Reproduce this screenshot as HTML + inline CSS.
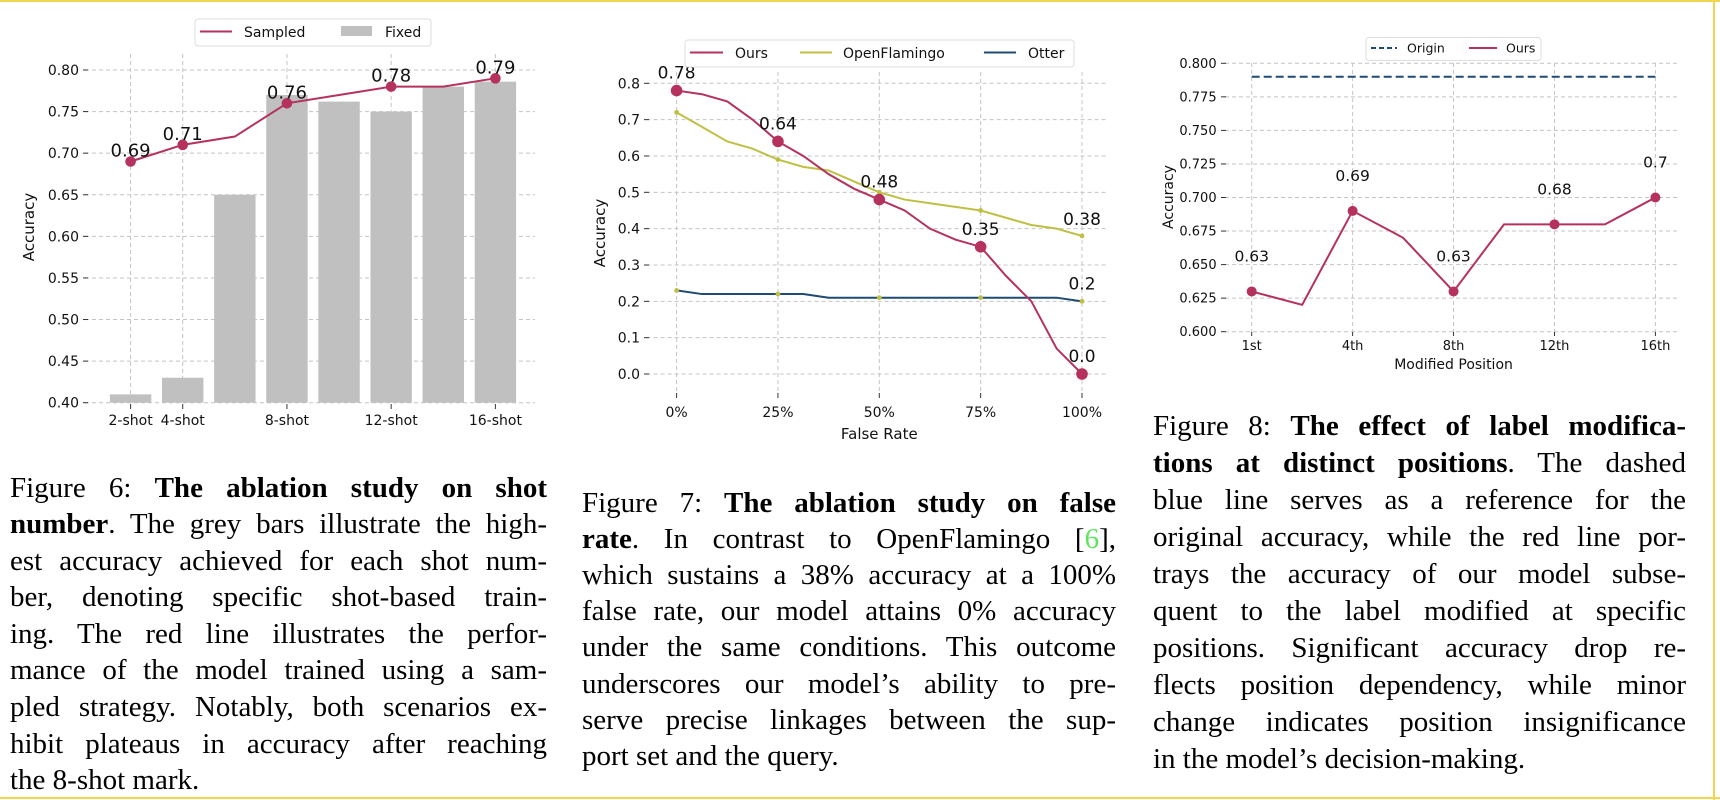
<!DOCTYPE html>
<html><head><meta charset="utf-8">
<style>
html,body{margin:0;padding:0;background:#fff;}
body{width:1720px;height:800px;position:relative;overflow:hidden;font-family:"Liberation Sans","DejaVu Sans",sans-serif;}
svg{position:absolute;left:0;top:0;}
.cap{position:absolute;font-family:"Liberation Serif",serif;font-size:29px;color:#000;}
.cap div{text-align:justify;text-align-last:justify;white-space:nowrap;}
.cap div.last{text-align-last:left;}
.cap b{font-weight:bold;}
</style></head><body>
<div style="position:absolute;left:0;top:0;width:1720px;height:2px;background:#f3d552"></div>
<div style="position:absolute;left:0;top:797px;width:1720px;height:2px;background:#f3d552"></div>
<div style="position:absolute;left:1713px;top:0;width:2px;height:800px;background:#f3d552"></div>
<svg id="chart" width="1720" height="800"></svg>

<div class="cap" style="left:10px;top:469.5px;width:537px;line-height:36.6px;">
<div>Figure 6: <b>The ablation study on shot</b></div>
<div><b>number</b>. The grey bars illustrate the high-</div>
<div>est accuracy achieved for each shot num-</div>
<div>ber, denoting specific shot-based train-</div>
<div>ing. The red line illustrates the perfor-</div>
<div>mance of the model trained using a sam-</div>
<div>pled strategy. Notably, both scenarios ex-</div>
<div>hibit plateaus in accuracy after reaching</div>
<div class="last">the 8-shot mark.</div>
</div>
<div class="cap" style="left:582px;top:484.5px;width:534px;line-height:36.2px;">
<div>Figure 7: <b>The ablation study on false</b></div>
<div><b>rate</b>. In contrast to OpenFlamingo [<span style="color:#5ee55e">6</span>],</div>
<div>which sustains a 38% accuracy at a 100%</div>
<div>false rate, our model attains 0% accuracy</div>
<div>under the same conditions. This outcome</div>
<div>underscores our model’s ability to pre-</div>
<div>serve precise linkages between the sup-</div>
<div class="last">port set and the query.</div>
</div>
<div class="cap" style="left:1153px;top:407.5px;width:533px;line-height:37px;">
<div>Figure 8: <b>The effect of label modifica-</b></div>
<div><b>tions at distinct positions</b>. The dashed</div>
<div>blue line serves as a reference for the</div>
<div>original accuracy, while the red line por-</div>
<div>trays the accuracy of our model subse-</div>
<div>quent to the label modified at specific</div>
<div>positions. Significant accuracy drop re-</div>
<div>flects position dependency, while minor</div>
<div>change indicates position insignificance</div>
<div class="last">in the model’s decision-making.</div>
</div>

<script>
// ---------- Data ----------
// Figure 6
const f6Ticks = ["2-shot","4-shot","","8-shot","","12-shot","","16-shot"];
const f6Fixed = [0.41,0.43,0.65,0.77,0.762,0.75,0.78,0.786];
const f6Sampled = [0.69,0.71,0.72,0.76,0.77,0.78,0.78,0.79];
const f6LabelIdx = [0,1,3,5,7];
const f6YTicks = [0.40,0.45,0.50,0.55,0.60,0.65,0.70,0.75,0.80];
// Figure 7
const f7XTicks = ["0%","25%","50%","75%","100%"];
const f7Ours = [0.78,0.77,0.75,0.70,0.64,0.60,0.55,0.51,0.48,0.45,0.40,0.37,0.35,0.27,0.20,0.07,0.00];
const f7Flamingo = [0.72,0.68,0.64,0.62,0.59,0.57,0.56,0.53,0.50,0.48,0.47,0.46,0.45,0.43,0.41,0.40,0.38];
const f7Otter = [0.23,0.22,0.22,0.22,0.22,0.22,0.21,0.21,0.21,0.21,0.21,0.21,0.21,0.21,0.21,0.21,0.20];
const f7YTicks = [0.0,0.1,0.2,0.3,0.4,0.5,0.6,0.7,0.8];
// Figure 8
const f8XTicks = ["1st","","4th","","8th","","12th","","16th"];
const f8Ours = [0.63,0.62,0.69,0.67,0.63,0.68,0.68,0.68,0.70];
const f8Origin = [0.79];
const f8YTicks = [0.600,0.625,0.650,0.675,0.700,0.725,0.750,0.775,0.800];

const RED="#b5325e", YEL="#bfc043", BLUE="#1f4a73", GRID="#c4c4c4";
const svg=document.getElementById('chart');
const NS="http://www.w3.org/2000/svg";
function mk(tag,attrs,parent){const e=document.createElementNS(NS,tag);for(const k in attrs)e.setAttribute(k,attrs[k]);(parent||svg).appendChild(e);return e;}
function txt(s,x,y,size,anchor,parent,extra){const t=mk('text',Object.assign({x:x,y:y,'font-size':size,'text-anchor':anchor||'middle',fill:'#111','font-family':'"DejaVu Sans","Liberation Sans",sans-serif'},extra||{}),parent);t.textContent=s;return t;}
function lin(x,x0,x1,d0,d1){return x0+(x-d0)*(x1-x0)/(d1-d0);}

// ---------- Figure 6 ----------
(function(){
  const g=mk('g',{});
  
  
  const X=i=>lin(i,130.6,495.4,0,7), Y=v=>lin(v,402.7,70,0.40,0.80);
  f6YTicks.forEach(v=>{
    const l=mk('line',{x1:85,x2:535,y1:Y(v),y2:Y(v),stroke:GRID,'stroke-dasharray':'4,3','stroke-width':1},g);
    
    
    mk('line',{x1:83,x2:88,y1:Y(v),y2:Y(v),stroke:'#333'},g);
    const t=txt(v.toFixed(2),79,Y(v)+5,14,'end',g);
    
    
  });
  f6Ticks.forEach((s,i)=>{ if(!s) return;
    mk('line',{x1:X(i),x2:X(i),y1:54,y2:402.7,stroke:GRID,'stroke-dasharray':'4,3'},g);
    mk('line',{x1:X(i),x2:X(i),y1:404,y2:409,stroke:'#333'},g);
    const t=txt(s,X(i),425,14,'middle',g);
    
    
  });
  f6Fixed.forEach((v,i)=>{
    const b=mk('rect',{x:X(i)-20.7,y:Y(v),width:41.4,height:Y(0.40)-Y(v),fill:'#c0c0c0'},g);
    
    
  });
  const p=mk('polyline',{points:f6Sampled.map((v,i)=>X(i)+','+Y(v)).join(' '),fill:'none',stroke:RED,'stroke-width':2},g);
  
  
  f6LabelIdx.forEach(i=>{
    const c=mk('circle',{cx:X(i),cy:Y(f6Sampled[i]),r:5.3,fill:RED},g);
    
    
    const t=txt(String(f6Sampled[i]),X(i),Y(f6Sampled[i])-5,18,'middle',g);
    
    
  });
  const yl=txt('Accuracy',0,0,15,'middle',g,{transform:'translate(34,227) rotate(-90)'});
  
  
  const lg=mk('g',{},g);
  
  
  mk('rect',{x:195,y:19,width:236,height:27,rx:3,fill:'#fff',stroke:'#ddd'},lg);
  mk('line',{x1:200,x2:232,y1:31.5,y2:31.5,stroke:RED,'stroke-width':2},lg);
  txt('Sampled',244,37,14,'start',lg);
  mk('rect',{x:341,y:26,width:31,height:10,fill:'#c0c0c0'},lg);
  txt('Fixed',385,37,14,'start',lg);
})();

// ---------- Figure 7 ----------
(function(){
  const g=mk('g',{});
  
  
  const X=i=>lin(i,676.6,1082,0,16), Y=v=>lin(v,374,83.3,0,0.8);
  f7YTicks.forEach(v=>{
    const l=mk('line',{x1:646.6,x2:1107,y1:Y(v),y2:Y(v),stroke:GRID,'stroke-dasharray':'4,3'},g);
    
    
    mk('line',{x1:644,x2:649,y1:Y(v),y2:Y(v),stroke:'#333'},g);
    const t=txt(v.toFixed(1),640,Y(v)+5,14,'end',g);
    
    
  });
  f7XTicks.forEach((s,k)=>{ const i=k*4;
    mk('line',{x1:X(i),x2:X(i),y1:72,y2:393,stroke:GRID,'stroke-dasharray':'4,3'},g);
    mk('line',{x1:X(i),x2:X(i),y1:393,y2:398,stroke:'#333'},g);
    const t=txt(s,X(i),417,14,'middle',g);
    
    
  });
  const series=[[f7Otter,BLUE,'otter'],[f7Flamingo,YEL,'openflamingo'],[f7Ours,RED,'ours']];
  series.forEach(([d,c,n])=>{
    const p=mk('polyline',{points:d.map((v,i)=>X(i)+','+Y(v)).join(' '),fill:'none',stroke:c,'stroke-width':2},g);
    
    
  });
  [0,4,8,12,16].forEach(i=>{
    const a=mk('circle',{cx:X(i),cy:Y(f7Otter[i]),r:2.4,fill:YEL},g);
    
    
    const b=mk('circle',{cx:X(i),cy:Y(f7Flamingo[i]),r:2.4,fill:YEL},g);
    
    
    const c=mk('circle',{cx:X(i),cy:Y(f7Ours[i]),r:5.8,fill:RED},g);
    
    
    const t=txt(String(f7Ours[i]===0?'0.0':f7Ours[i]),X(i),Y(f7Ours[i])-12,17,'middle',g);
    
    
  });
  const t1=txt(String(f7Flamingo[16]),X(16),Y(f7Flamingo[16])-11,17,'middle',g);
  
  
  const t2=txt(String(f7Otter[16]),X(16),Y(f7Otter[16])-12,17,'middle',g);
  
  
  const yl=txt('Accuracy',0,0,15,'middle',g,{transform:'translate(605,233) rotate(-90)'});
  
  
  const xl=txt('False Rate',X(8),439,15,'middle',g);
  
  
  const lg=mk('g',{},g);
  
  
  mk('rect',{x:685,y:40,width:389,height:27,rx:3,fill:'#fff',stroke:'#ddd'},lg);
  mk('line',{x1:690,x2:723,y1:52.5,y2:52.5,stroke:RED,'stroke-width':2},lg);
  txt('Ours',735,58,14,'start',lg);
  mk('line',{x1:800,x2:832,y1:52.5,y2:52.5,stroke:YEL,'stroke-width':2},lg);
  txt('OpenFlamingo',843,58,14,'start',lg);
  mk('line',{x1:984,x2:1016,y1:52.5,y2:52.5,stroke:BLUE,'stroke-width':2},lg);
  txt('Otter',1028,58,14,'start',lg);
})();

// ---------- Figure 8 ----------
(function(){
  const g=mk('g',{});
  
  
  const X=i=>lin(i,1251.7,1655.4,0,8), Y=v=>lin(v,331.7,63.3,0.6,0.8);
  f8YTicks.forEach(v=>{
    const l=mk('line',{x1:1225,x2:1680,y1:Y(v),y2:Y(v),stroke:GRID,'stroke-dasharray':'4,3'},g);
    
    
    mk('line',{x1:1221,x2:1226,y1:Y(v),y2:Y(v),stroke:'#333'},g);
    const t=txt(v.toFixed(3),1216.6,Y(v)+4.5,13,'end',g);
    
    
  });
  f8XTicks.forEach((s,i)=>{ if(!s) return;
    mk('line',{x1:X(i),x2:X(i),y1:63,y2:332,stroke:GRID,'stroke-dasharray':'4,3'},g);
    mk('line',{x1:X(i),x2:X(i),y1:332,y2:336,stroke:'#333'},g);
    const t=txt(s,X(i),350,13,'middle',g);
    
    
  });
  const o=mk('line',{x1:X(0),x2:X(8),y1:Y(f8Origin[0]),y2:Y(f8Origin[0]),stroke:BLUE,'stroke-width':2,'stroke-dasharray':'8,4'},g);
  
  
  const p=mk('polyline',{points:f8Ours.map((v,i)=>X(i)+','+Y(v)).join(' '),fill:'none',stroke:RED,'stroke-width':2},g);
  
  
  [0,2,4,6,8].forEach(i=>{
    const c=mk('circle',{cx:X(i),cy:Y(f8Ours[i]),r:5,fill:RED},g);
    
    
    const t=txt(String(f8Ours[i]),X(i),Y(f8Ours[i])-30,15.5,'middle',g);
    
    
  });
  const yl=txt('Accuracy',0,0,14,'middle',g,{transform:'translate(1173,197) rotate(-90)'});
  
  
  const xl=txt('Modified Position',X(4),369,14,'middle',g);
  
  
  const lg=mk('g',{},g);
  
  
  mk('rect',{x:1366,y:37.5,width:175,height:23,rx:3,fill:'#fff',stroke:'#ddd'},lg);
  mk('line',{x1:1371,x2:1397,y1:48,y2:48,stroke:BLUE,'stroke-width':2,'stroke-dasharray':'5,3'},lg);
  txt('Origin',1407,52.5,12.5,'start',lg);
  mk('line',{x1:1469,x2:1497,y1:48,y2:48,stroke:RED,'stroke-width':2},lg);
  txt('Ours',1506,52.5,12.5,'start',lg);
})();
</script>
</body></html>
